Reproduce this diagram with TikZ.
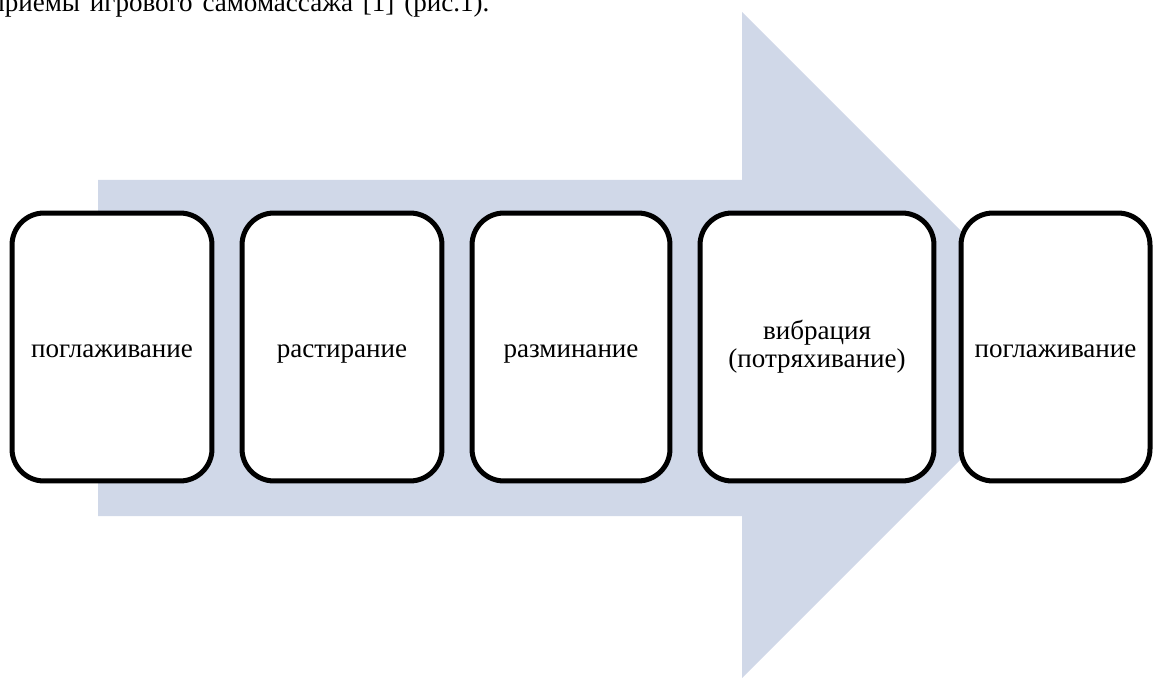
\documentclass[tikz,border=0pt]{standalone}
\usepackage{fontspec}
\setmainfont{Liberation Serif}
\usetikzlibrary{positioning}

\definecolor{arrowfill}{HTML}{D0D8E8}

\begin{document}
\begin{tikzpicture}[
		  x=0.02cm, y=-0.02cm,
		  % Define the style of the process boxes
		  stagebox/.style={rectangle, draw=black, fill=white, line width=0.1cm,
		    rounded corners=0.64cm, minimum height=5.36cm, inner sep=0pt,
		    align=center, font=\fontsize{15.4}{16}\selectfont,
		    execute at begin node={\rule{0pt}{15.4pt}},
		    execute at end node={\rule[-4pt]{0pt}{4pt}}},
		  % Define the style of the cut-off text line above
		  textline/.style={anchor=base west, inner sep=0pt,
		    font=\fontsize{15.4}{16}\selectfont,
		    execute at begin node={\spaceskip=5.6pt\relax}}
		  ]
		  \useasboundingbox (0,0) rectangle (1155,678);
		  \clip (0,0) rectangle (1155,678);

		  % Text line cut by the top edge
		  \node[textline] (caption) at (-10,12) {приемы игрового самомассажа [1] (рис.1).};

		  % Big background arrow
		  \fill[arrowfill] (98,180) -- (742,180) -- (742,12) -- (1075,345)
		    -- (742,678) -- (742,516) -- (98,516) -- cycle;

		  % Process boxes
		  \foreach \i/\x/\w/\txt in {1/112/4.0/поглаживание, 2/342/4.0/растирание,
		      3/571/3.96/разминание, 4/817/4.68/{вибрация\\(потряхивание)},
		      5/1055.5/3.78/поглаживание} {
		    \node[stagebox, minimum width=\w cm] (stage\i) at (\x,347) {\txt};
		  }
		\end{tikzpicture}
\end{document}
